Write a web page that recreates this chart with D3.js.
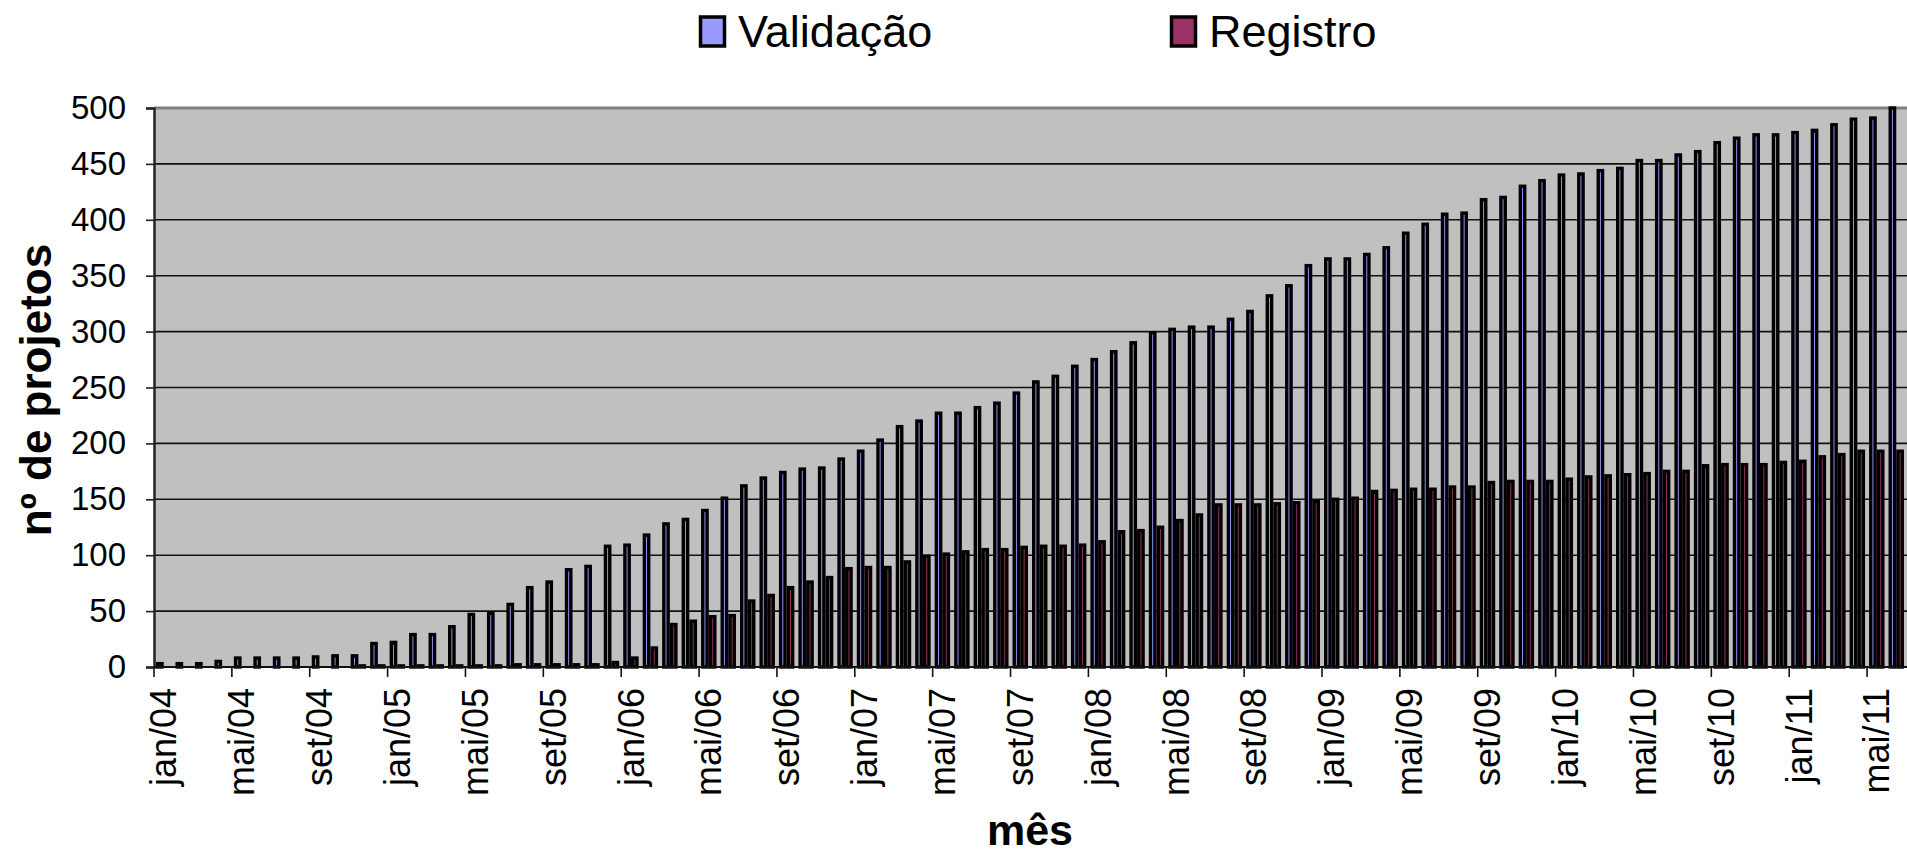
<!DOCTYPE html>
<html>
<head>
<meta charset="utf-8">
<script src="https://cdn.jsdelivr.net/npm/d3@7"></script>
<style>
  body { margin: 0; background: #fff; }
  svg { display: block; font-family: "Liberation Sans", Arial, sans-serif; }
</style>
</head>
<body>
<svg width="1907" height="855"></svg>
<script>
// meses jan/04 .. jun/11
var monthNames = ["jan", "fev", "mar", "abr", "mai", "jun", "jul", "ago", "set", "out", "nov", "dez"];
var years = ["04", "05", "06", "07", "08", "09", "10", "11"];
var tickLabels = ["jan/04", "mai/04", "set/04", "jan/05", "mai/05", "set/05", "jan/06", "mai/06",
  "set/06", "jan/07", "mai/07", "set/07", "jan/08", "mai/08", "set/08", "jan/09", "mai/09",
  "set/09", "jan/10", "mai/10", "set/10", "jan/11", "mai/11"];

var validacao = [3, 3, 3, 5, 8, 8, 8, 8, 9, 10, 10, 21, 22, 29, 29, 36, 47, 48, 56, 71,
  76, 87, 90, 108, 109, 118, 128, 132, 140, 151, 162, 169, 174, 177, 178, 186, 193, 203, 215, 220,
  227, 227, 232, 236, 245, 255, 260, 269, 275, 282, 290, 299, 302, 304, 304, 311, 318, 332, 341, 359,
  365, 365, 369, 375, 388, 396, 405, 406, 418, 420, 430, 435, 440, 441, 444, 446, 453, 453, 458, 461,
  469, 473, 476, 476, 478, 480, 485, 490, 491, 500];

var registro = [0, 0, 0, 0, 0, 0, 0, 0, 0, 0, 1, 1, 1, 1, 1, 1, 1, 1, 2, 2,
  2, 2, 2, 4, 8, 17, 38, 41, 45, 46, 59, 64, 71, 76, 80, 88, 89, 89, 94, 99,
  101, 103, 105, 105, 107, 108, 108, 109, 112, 121, 122, 125, 131, 136, 145, 145, 145, 146, 147, 148,
  150, 151, 157, 158, 159, 159, 161, 161, 165, 166, 166, 166, 168, 170, 171, 172, 173, 175, 175, 180,
  181, 181, 181, 183, 184, 188, 190, 193, 193, 193];

var seriesNames = ["Validação", "Registro"];
var seriesColors = ["#9999ff", "#993366"];
var yTicks = [0, 50, 100, 150, 200, 250, 300, 350, 400, 450, 500];

var categories = [];
years.forEach(function (y) {
  monthNames.forEach(function (m) {
    if (categories.length < validacao.length) categories.push(m + "/" + y);
  });
});

var svg = d3.select("svg");
var plotL = 154, plotR = 1906, plotT = 108, plotB = 667;

var x0 = d3.scaleBand().domain(categories).range([plotL, plotR]).paddingInner(0).paddingOuter(0);
var x1 = d3.scaleBand().domain([0, 1]).range([2, x0.bandwidth() - 2]);
var y = d3.scaleLinear().domain([0, 500]).range([plotB, plotT]);

// plot area
svg.append("rect")
  .attr("x", plotL).attr("y", plotT)
  .attr("width", plotR - plotL + 2).attr("height", plotB - plotT)
  .style("fill", "#c0c0c0");

svg.append("g")
  .selectAll("line")
  .data(yTicks.slice(1, -1))
  .enter()
  .append("line")
  .attr("x1", plotL).attr("x2", plotR + 2)
  .attr("y1", function (d) { return y(d); })
  .attr("y2", function (d) { return y(d); })
  .style("stroke", "#111")
  .attr("stroke-width", 1.6);

svg.append("line")
  .attr("x1", plotL).attr("x2", plotR + 2)
  .attr("y1", plotT).attr("y2", plotT)
  .style("stroke", "#808080")
  .attr("stroke-width", 3);

// bars
var sw = 3.4;
var group = svg.append("g")
  .selectAll("g")
  .data(categories)
  .enter()
  .append("g")
  .attr("transform", function (d) { return "translate(" + x0(d) + ",0)"; });

group.selectAll("rect")
  .data(function (d, i) { return [validacao[i], registro[i]]; })
  .enter()
  .append("rect")
  .attr("x", function (d, j) { return x1(j) + sw / 2; })
  .attr("width", x1.bandwidth() - sw)
  .attr("y", function (d) { return y(d); })
  .attr("height", function (d) { return plotB - y(d); })
  .style("fill", function (d, j) { return seriesColors[j]; })
  .style("stroke", "#000")
  .attr("stroke-width", sw);

// y axis
var yAxis = svg.append("g")
  .attr("transform", "translate(" + plotL + ",0)")
  .call(d3.axisLeft(y).tickValues(yTicks).tickSize(8).tickPadding(20));
yAxis.select(".domain").style("stroke", "#222").attr("stroke-width", 2.5);
yAxis.selectAll(".tick line").style("stroke", "#222").attr("stroke-width", 1.6);
yAxis.selectAll(".tick text")
  .style("font-size", "33px")
  .style("font-family", "'Liberation Sans', Arial, sans-serif")
  .style("fill", "#000");

// x axis
svg.append("line")
  .attr("x1", plotL).attr("x2", plotR + 2)
  .attr("y1", plotB).attr("y2", plotB)
  .style("stroke", "#111").attr("stroke-width", 2);

svg.append("g")
  .selectAll("line")
  .data(tickLabels)
  .enter()
  .append("line")
  .attr("x1", function (d) { return x0(d); })
  .attr("x2", function (d) { return x0(d); })
  .attr("y1", plotB).attr("y2", plotB + 10)
  .style("stroke", "#111").attr("stroke-width", 1.6);

svg.append("g")
  .selectAll("text")
  .data(tickLabels)
  .enter()
  .append("text")
  .attr("transform", function (d) {
    return "translate(" + (x0(d) + x0.bandwidth() / 2) + "," + (plotB + 21) + ") rotate(-90)";
  })
  .attr("dy", "0.35em")
  .attr("text-anchor", "end")
  .style("font-size", "36px")
  .text(function (d) { return d; });

// titles
svg.append("text")
  .attr("transform", "translate(36,390) rotate(-90)")
  .attr("dy", "0.35em")
  .attr("text-anchor", "middle")
  .style("font-size", "44px")
  .style("font-weight", "bold")
  .text("nº de projetos");

svg.append("text")
  .attr("x", 1030).attr("y", 845)
  .attr("text-anchor", "middle")
  .style("font-size", "43px")
  .style("font-weight", "bold")
  .text("mês");

// legend
var legendX = [699, 1170];
var legend = svg.append("g")
  .selectAll("g")
  .data(seriesNames)
  .enter()
  .append("g")
  .attr("transform", function (d, i) { return "translate(" + legendX[i] + ",0)"; });

legend.append("rect")
  .attr("x", 1.5).attr("y", 17)
  .attr("width", 24).attr("height", 29)
  .style("fill", function (d, i) { return seriesColors[i]; })
  .style("stroke", "#000")
  .attr("stroke-width", 3.5);

legend.append("text")
  .attr("x", 39).attr("y", 47)
  .style("font-size", "45px")
  .text(function (d) { return d; });
</script>
</body>
</html>
